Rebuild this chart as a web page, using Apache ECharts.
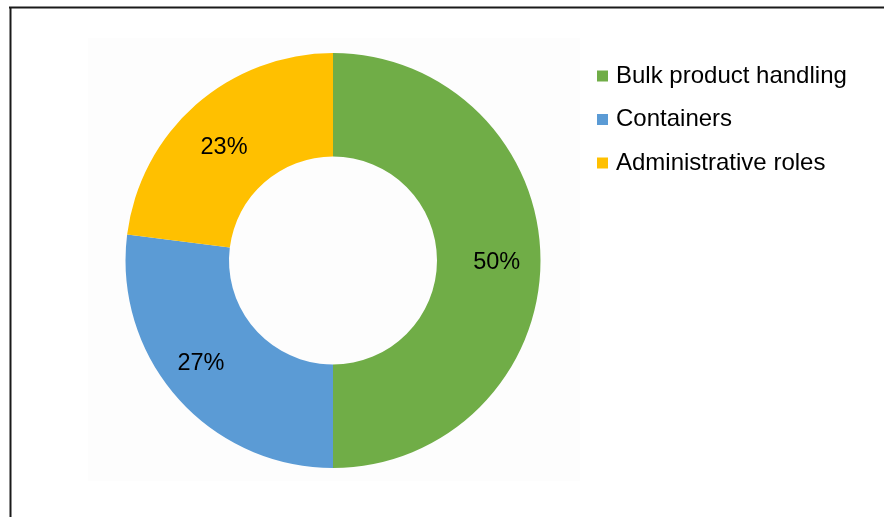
<!DOCTYPE html>
<html>
<head>
<meta charset="utf-8">
<script src="https://cdn.jsdelivr.net/npm/echarts@6/dist/echarts.min.js"></script>
<style>
html,body{margin:0;padding:0;background:#fff;}
#chart{width:884px;height:517px;}
</style>
</head>
<body>
<div id="chart"></div>
<script>
const categories = ['Bulk product handling', 'Containers', 'Administrative roles'];
const values = [50, 27, 23];
const colors = ['#70AD47', '#5B9BD5', '#FFC000'];
const labelOffsets = [[5, 2], [-13, -2], [-4, 6]];

const chart = echarts.init(document.getElementById('chart'));
chart.setOption({
  animation: false,
  backgroundColor: '#ffffff',
  graphic: [
    { type: 'rect', shape: { x: 88, y: 38, width: 492, height: 443 }, style: { fill: '#fdfdfd' }, z: -10 },
    { type: 'line', shape: { x1: 9, y1: 7.5, x2: 884, y2: 7.5 }, style: { stroke: '#1a1a1a', lineWidth: 2 } },
    { type: 'line', shape: { x1: 10.5, y1: 7, x2: 10.5, y2: 517 }, style: { stroke: '#1a1a1a', lineWidth: 2 } }
  ],
  legend: {
    orient: 'vertical',
    left: 597,
    top: 64,
    padding: 0,
    itemWidth: 11,
    itemHeight: 11,
    itemGap: 19.5,
    icon: 'rect',
    textStyle: { fontFamily: 'Liberation Sans, Arial, sans-serif', fontSize: 24, color: '#000', padding: [0, 0, 0, 3] },
    data: categories
  },
  series: [{
    type: 'pie',
    center: [333, 260.5],
    radius: [104, 207.5],
    startAngle: 90,
    clockwise: true,
    avoidLabelOverlap: false,
    label: {
      show: true,
      position: 'inside',
      formatter: '{d}%',
      fontFamily: 'Liberation Sans, Arial, sans-serif',
      fontSize: 23.5,
      color: '#000'
    },
    labelLine: { show: false },
    itemStyle: { borderWidth: 0 },
    data: categories.map((c, i) => ({
      name: c,
      value: values[i],
      itemStyle: { color: colors[i] },
      label: { offset: labelOffsets[i] }
    }))
  }]
});
</script>
</body>
</html>
